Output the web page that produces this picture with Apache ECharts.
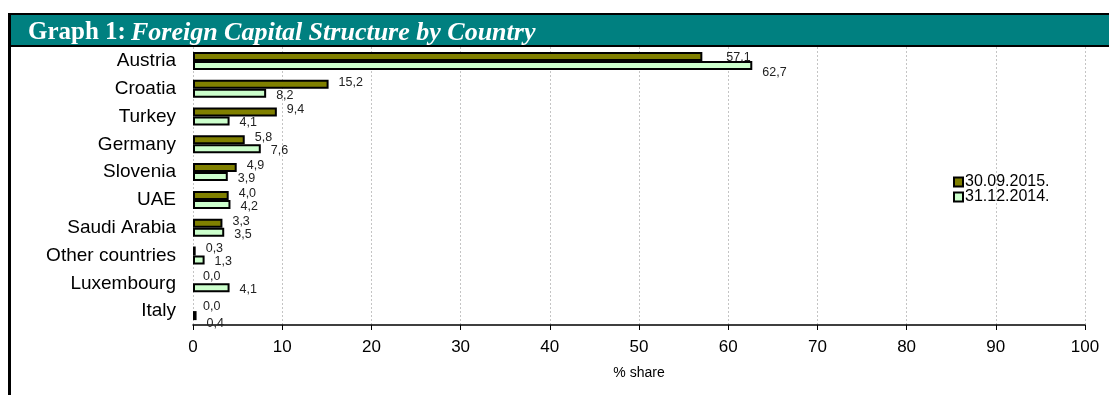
<!DOCTYPE html>
<html>
<head>
<meta charset="utf-8">
<script src="https://cdn.jsdelivr.net/npm/echarts@6/dist/echarts.min.js"></script>
<style>
html,body{margin:0;padding:0;background:#fff;}
#chart{width:1109px;height:395px;}
</style>
</head>
<body>
<div id="chart"></div>
<script>
const categories = ['Austria','Croatia','Turkey','Germany','Slovenia','UAE','Saudi Arabia','Other countries','Luxembourg','Italy'];
const seriesNames = ['30.09.2015.','31.12.2014.'];
const values2015 = [57.1,15.2,9.4,5.8,4.9,4.0,3.3,0.3,0.0,0.0];
const values2014 = [62.7,8.2,4.1,7.6,3.9,4.2,3.5,1.3,4.1,0.4];
const xTicks = [0,10,20,30,40,50,60,70,80,90,100];

const fmt = v => v.toFixed(1).replace('.', ',');

// small per-item label nudges (style only)
const labelShift2015 = {0:[14,3], 8:[0,0], 9:[0,2]};
const labelShift2014 = {0:[0,5], 9:[0,6]};

function buildData(vals, shifts, baseOffset){
  return vals.map((v,i)=>{
    const item = {value:v};
    const sh = shifts[i] || [0,0];
    item.label = {offset:[baseOffset[0]+sh[0], baseOffset[1]+sh[1]]};
    if (v === 0) item.itemStyle = {borderWidth:0};
    return item;
  });
}

const chart = echarts.init(document.getElementById('chart'), null, {renderer:'canvas'});
const labelStyle = {show:true, position:'right', distance:10, fontFamily:'Liberation Sans, Arial, sans-serif', fontSize:12.5, color:'#222', formatter:p=>fmt(p.value)};

chart.setOption({
  backgroundColor:'#fff',
  animation:false,
  graphic:[
    {type:'rect', shape:{x:8,y:13,width:1101,height:34}, style:{fill:'#000'}, z:0},
    {type:'rect', shape:{x:11,y:15,width:1098,height:30}, style:{fill:'#008080'}, z:1},
    {type:'rect', shape:{x:8,y:13,width:3,height:382}, style:{fill:'#000'}, z:1}
  ],
  title:{
    left:23, top:15,
    text:'{b|Graph 1:} {i|Foreign Capital Structure by Country}',
    textStyle:{
      rich:{
        b:{fontFamily:'Liberation Serif, Times New Roman, serif', fontWeight:'bold', fontSize:25, color:'#fff'},
        i:{fontFamily:'Liberation Serif, Times New Roman, serif', fontStyle:'italic', fontSize:26, color:'#fff'}
      }
    }
  },
  legend:{
    orient:'vertical', left:948, top:169,
    itemWidth:9, itemHeight:9, itemGap:-1,
    textStyle:{fontFamily:'Liberation Sans, Arial, sans-serif', fontSize:16, color:'#000', padding:[0,0,0,-3]},
    data:seriesNames.map(n=>({name:n, icon:'rect'})),
    itemStyle:{borderColor:'#000', borderWidth:2}
  },
  grid:{left:193, right:24, top:47, height:278, containLabel:false},
  xAxis:{
    type:'value', min:0, max:100, interval:10,
    name:'% share', nameLocation:'middle', nameGap:41,
    nameTextStyle:{fontFamily:'Liberation Sans, Arial, sans-serif', fontSize:14, color:'#000'},
    axisLine:{show:true, lineStyle:{color:'#000', width:1.5}},
    axisTick:{show:true, length:5, lineStyle:{color:'#000'}},
    axisLabel:{margin:14, fontFamily:'Liberation Sans, Arial, sans-serif', fontSize:17, color:'#000',
      formatter:v=> xTicks.includes(v) ? String(v) : ''},
    splitLine:{show:true, lineStyle:{color:'#c4c4c4', type:[2,2], width:1}}
  },
  yAxis:{
    type:'category', data:categories, inverse:true,
    axisLine:{show:false}, axisTick:{show:false},
    axisLabel:{margin:17, fontFamily:'Liberation Sans, Arial, sans-serif', fontSize:19, color:'#000'}
  },
  series:[
    {name:seriesNames[0], type:'bar', barWidth:9, barGap:'0%',
      itemStyle:{color:'#808000', borderColor:'#000', borderWidth:2},
      label:labelStyle,
      data:buildData(values2015, labelShift2015, [0,-2])},
    {name:seriesNames[1], type:'bar', barWidth:9, barGap:'0%',
      itemStyle:{color:'#ccffcc', borderColor:'#000', borderWidth:2},
      label:labelStyle,
      data:buildData(values2014, labelShift2014, [0,2])}
  ]
});
</script>
</body>
</html>
